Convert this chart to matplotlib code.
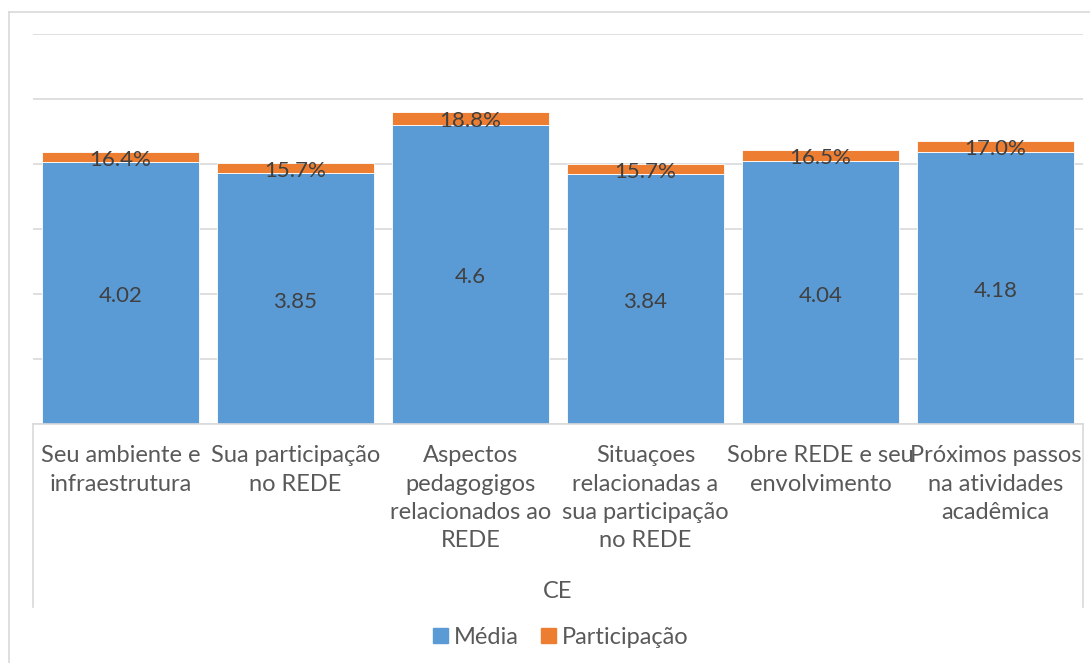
import matplotlib.pyplot as plt
from matplotlib.patches import Patch
from matplotlib.lines import Line2D

plt.rcParams['font.family'] = ['Lato', 'DejaVu Sans']

categorias = ['Seu ambiente e\ninfraestrutura',
              'Sua participação\nno REDE',
              'Aspectos\npedagogigos\nrelacionados ao\nREDE',
              'Situaçoes\nrelacionadas a\nsua participação\nno REDE',
              'Sobre REDE e seu\nenvolvimento',
              'Próximos passos\nna atividades\nacadêmica']
media = [4.02, 3.85, 4.6, 3.84, 4.04, 4.18]
participacao = [0.164, 0.157, 0.188, 0.157, 0.165, 0.170]
grupo = 'CE'

azul = '#5B9BD5'
laranja = '#ED7D31'
cinza = '#D9D9D9'
texto = '#595959'

W, H = 1090, 663
fig = plt.figure(figsize=(W / 100, H / 100), dpi=100)
ax = fig.add_axes([33 / W, 1 - 423.5 / H, 1050 / W, 390 / H])

x = range(len(categorias))
ax.bar(x, media, width=0.9, color=azul, edgecolor='white', linewidth=0.6, zorder=2)
ax.bar(x, participacao, width=0.9, bottom=media, color=laranja,
       edgecolor='white', linewidth=0.6, zorder=2)

for i in x:
    ax.annotate(f'{media[i]:g}', (i, media[i] / 2), xytext=(0, -2.5),
                textcoords='offset points', ha='center', va='center',
                fontsize=16, color='#404040', zorder=3)
    ax.annotate(f'{participacao[i] * 100:.1f}%', (i, media[i] + participacao[i] / 2),
                xytext=(0, -2), textcoords='offset points', ha='center', va='center',
                fontsize=16, color='#404040', zorder=3)

ax.set_xlim(-0.5, len(categorias) - 0.5)
ax.set_ylim(0, 6)
ax.set_yticks(range(7))
ax.yaxis.grid(True, color=cinza, linewidth=1.2, zorder=0)
ax.tick_params(left=False, labelleft=False, bottom=False, labelbottom=False)
for s in ['left', 'right', 'top']:
    ax.spines[s].set_visible(False)
ax.spines['bottom'].set_color(cinza)
ax.spines['bottom'].set_linewidth(1.2)

# rotulos das categorias (eixo de varios niveis)
for i in x:
    ax.text(i, -22 / 390, categorias[i], transform=ax.get_xaxis_transform(),
            ha='center', va='top', fontsize=17, color=texto, linespacing=1.42)
ax.text(0.5, -(592 - 423.5) / 390, grupo, transform=ax.transAxes,
        ha='center', va='center', fontsize=17, color=texto)
yb = -(607 - 423.5) / 390
for xe in (0, 1):
    ax.add_line(Line2D([xe, xe], [0, yb], transform=ax.transAxes,
                       color=cinza, linewidth=1.2, clip_on=False))

# borda do grafico
fig.add_artist(Line2D([9 / W, 9 / W], [0, 1 - 12 / H], color=cinza, linewidth=1.2))
fig.add_artist(Line2D([9 / W, 1], [1 - 12 / H, 1 - 12 / H], color=cinza, linewidth=1.2))

handles = [Patch(color=azul, label='Média'), Patch(color=laranja, label='Participação')]
fig.legend(handles=handles, loc='center', bbox_to_anchor=(561 / W, 1 - 637 / H),
           ncol=2, frameon=False, fontsize=17, handlelength=0.62, handleheight=0.62,
           handletextpad=0.25, columnspacing=0.95, labelcolor=texto)

fig.savefig('out.png', dpi=100)
